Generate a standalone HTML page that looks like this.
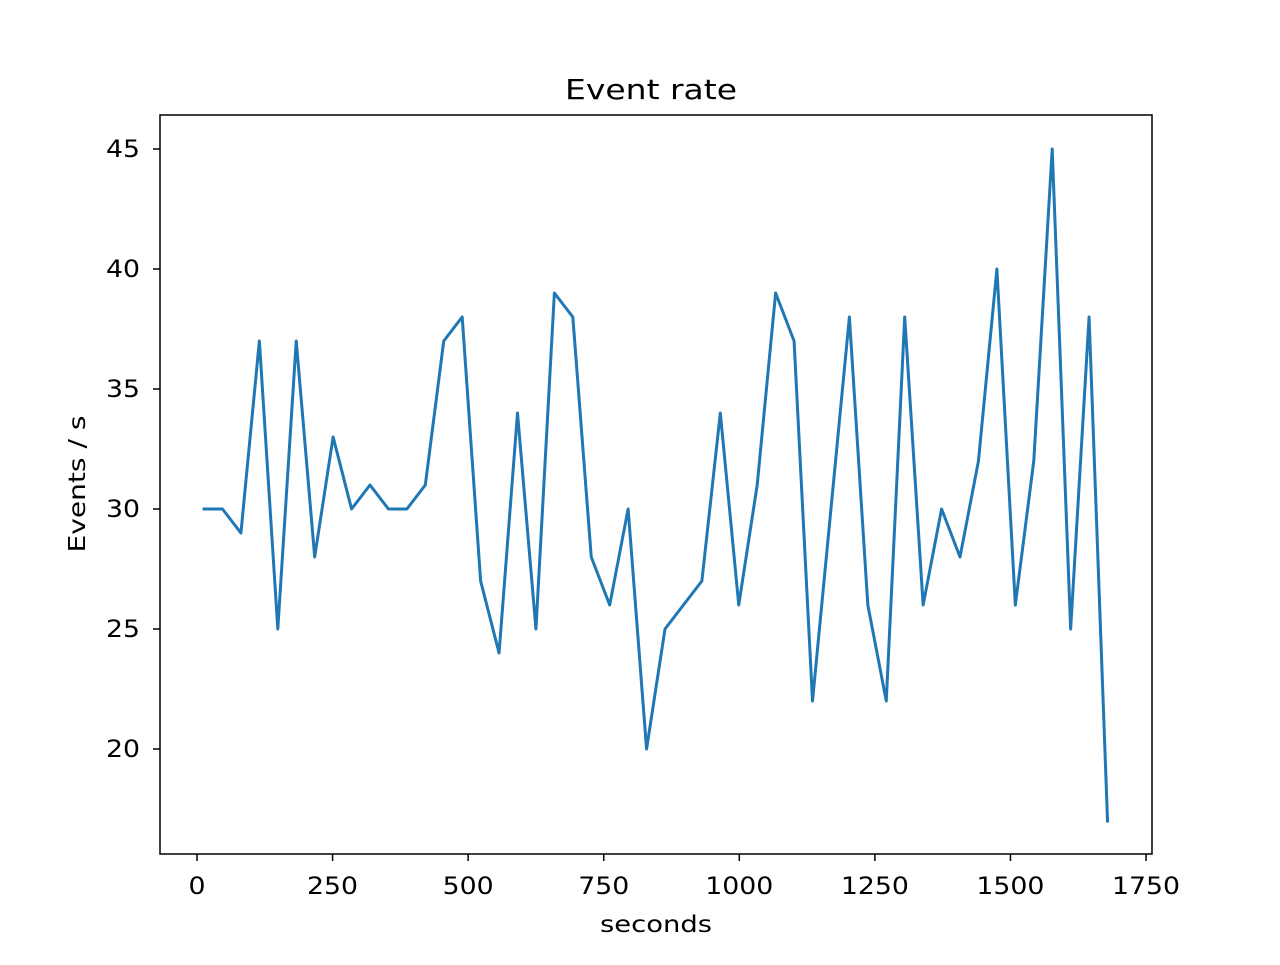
<!DOCTYPE html>
<html><head><meta charset="utf-8"><style>
body{margin:0;background:#fff;width:1280px;height:960px;overflow:hidden}
text{font-family:"DejaVu Sans","Liberation Sans",sans-serif;fill:#000}
</style></head><body>
<svg id="chart" width="1280" height="960" xmlns="http://www.w3.org/2000/svg">
<rect width="1280" height="960" fill="#fff"/>
<g id="ticks"></g>
<polyline id="line" fill="none" stroke="#1f77b4" stroke-width="3" stroke-linejoin="round" stroke-linecap="square"/>
<rect x="160" y="115" width="992" height="739" fill="none" stroke="#000" stroke-width="1.5"/>
<text x="651" y="99" font-size="28" text-anchor="middle" textLength="172" lengthAdjust="spacingAndGlyphs">Event rate</text>
<text x="656" y="932" font-size="23" text-anchor="middle" textLength="112" lengthAdjust="spacingAndGlyphs">seconds</text>
<text x="85" y="484" font-size="23" text-anchor="middle" textLength="137" lengthAdjust="spacingAndGlyphs" transform="rotate(-90 85 484)">Events / s</text>
</svg>
<script>
const xValues=[13,47,81,115,149,183,217,251,285,319,353,387,421,455,489,523,557,591,625,659,693,727,761,795,829,863,897,931,965,999,1033,1067,1101,1135,1169,1203,1237,1271,1305,1339,1373,1407,1441,1475,1509,1543,1577,1611,1645,1679];
const yValues=[30,30,29,37,25,37,28,33,30,31,30,30,31,37,38,27,24,34,25,39,38,28,26,30,20,25,26,27,34,26,31,39,37,22,30,38,26,22,38,26,30,28,32,40,26,32,45,25,38,17];
const xTicks=[0,250,500,750,1000,1250,1500,1750];
const yTicks=[20,25,30,35,40,45];
const sx=v=>197+v*0.5423;
const sy=v=>749-(v-20)*24;
const NS="http://www.w3.org/2000/svg";
document.getElementById('line').setAttribute('points',xValues.map((x,i)=>sx(x)+','+sy(yValues[i])).join(' '));
const g=document.getElementById('ticks');
xTicks.forEach(t=>{
 const l=document.createElementNS(NS,'line');
 
 
 l.setAttribute('x1',sx(t));l.setAttribute('x2',sx(t));l.setAttribute('y1',854);l.setAttribute('y2',861);l.setAttribute('stroke','#000');l.setAttribute('stroke-width','1.5');g.appendChild(l);
 const tx=document.createElementNS(NS,'text');
 
 
 tx.setAttribute('x',sx(t));tx.setAttribute('y',894);tx.setAttribute('font-size','24');tx.setAttribute('text-anchor','middle');
 tx.setAttribute('textLength',String(t).length*17);tx.setAttribute('lengthAdjust','spacingAndGlyphs');
 tx.textContent=t;g.appendChild(tx);
});
yTicks.forEach(t=>{
 const l=document.createElementNS(NS,'line');
 
 
 l.setAttribute('x1',153);l.setAttribute('x2',160);l.setAttribute('y1',sy(t));l.setAttribute('y2',sy(t));l.setAttribute('stroke','#000');l.setAttribute('stroke-width','1.5');g.appendChild(l);
 const tx=document.createElementNS(NS,'text');
 
 
 tx.setAttribute('x',140);tx.setAttribute('y',sy(t)+8);tx.setAttribute('font-size','24');tx.setAttribute('text-anchor','end');
 tx.setAttribute('textLength',String(t).length*17);tx.setAttribute('lengthAdjust','spacingAndGlyphs');
 tx.textContent=t;g.appendChild(tx);
});
</script>
</body></html>
